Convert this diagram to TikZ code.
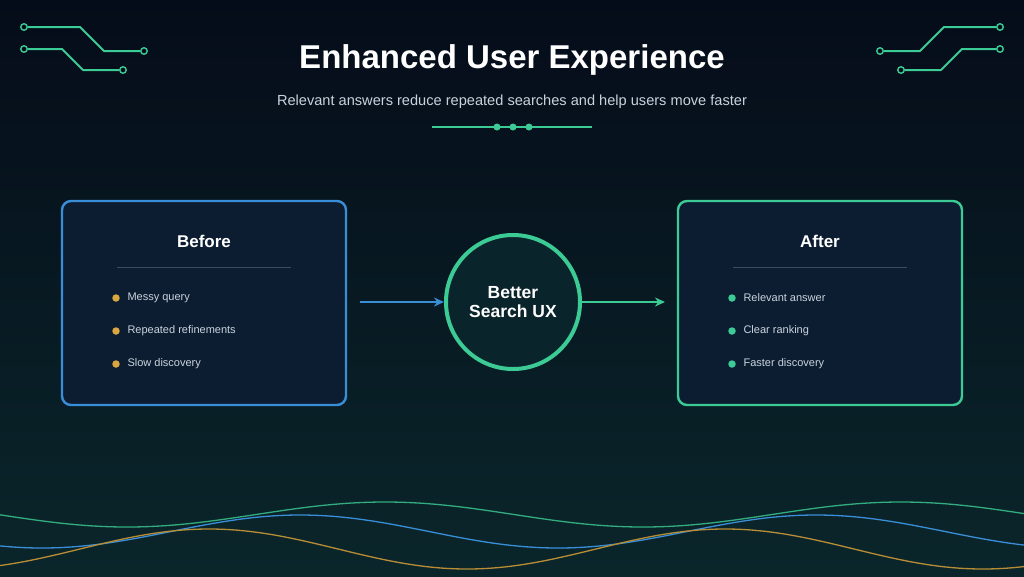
\documentclass[tikz,border=0pt]{standalone}
\usepackage{fontspec}
\setmainfont{Liberation Sans}
\usetikzlibrary{arrows.meta}
\begin{document}
\definecolor{bgtop}{HTML}{050C19}
\definecolor{bgbot}{HTML}{0A262B}
\definecolor{grn}{HTML}{3CCB95}
\definecolor{blu}{HTML}{3A8ED8}
\definecolor{gld}{HTML}{D9A640}
\definecolor{boxfill}{HTML}{0C1D32}
\definecolor{sub}{HTML}{C9D3DC}
\definecolor{sep}{HTML}{3A4C60}
\begin{tikzpicture}[x=1pt,y=-1pt,
  circ/.style={draw=grn,line width=2pt,line join=round},
  pin/.style={circle,draw=grn,line width=1.4pt,inner sep=0pt,minimum size=6.5pt},
  card/.style={rounded corners=9pt,line width=2.4pt,fill=boxfill},
  ttl/.style={text=white,font=\bfseries\fontsize{17}{20}\selectfont},
  item/.style={text=sub,font=\fontsize{11}{13}\selectfont,anchor=west},
  dot/.style={circle,inner sep=0pt,minimum size=7.5pt}]
\shade[top color=bgtop,bottom color=bgbot] (0,0) rectangle (1024,576);
\useasboundingbox (0,0) rectangle (1024,576);
% circuits
\node[pin] (a1) at (24,27) {}; \node[pin] (a2) at (144,51) {};
\draw[circ] (a1) -- (80,27) -- (104,51) -- (a2);
\node[pin] (b1) at (24,49) {}; \node[pin] (b2) at (123,70) {};
\draw[circ] (b1) -- (62,49) -- (83,70) -- (b2);
\node[pin] (c1) at (1000,27) {}; \node[pin] (c2) at (880,51) {};
\draw[circ] (c1) -- (944,27) -- (920,51) -- (c2);
\node[pin] (d1) at (1000,49) {}; \node[pin] (d2) at (901,70) {};
\draw[circ] (d1) -- (962,49) -- (941,70) -- (d2);
% title
\node[text=white,font=\bfseries\fontsize{33}{38}\selectfont] (title) at (512,60) {Enhanced User Experience};
\node[text=sub,font=\fontsize{14.6}{17}\selectfont] (subt) at (512,102) {Relevant answers reduce repeated searches and help users move faster};
\coordinate (l1) at (432,127); \coordinate (l2) at (592,127);
\draw[grn,line width=1.8pt] (l1) -- (l2);
\foreach \x in {497,513,529} \fill[grn] (\x,127) circle (3.5pt);
% cards
\node[card,draw=blu,minimum width=284pt,minimum height=204pt] (before) at (204,303) {};
\node[card,draw=grn,minimum width=284pt,minimum height=204pt] (after) at (820,303) {};
\node[ttl] at (204,241) {Before};
\node[ttl] at (820,241) {After};
\draw[sep,line width=1pt] (117,267) -- (291,267);
\draw[sep,line width=1pt] (733,267) -- (907,267);
\foreach \y/\t in {298/Messy query,331/Repeated refinements,364/Slow discovery}{
  \node[dot,fill=gld] at (116,\y) {}; \node[item] at (124,\y) {\t};}
\foreach \y/\t in {298/Relevant answer,331/Clear ranking,364/Faster discovery}{
  \node[dot,fill=grn] at (732,\y) {}; \node[item] at (740,\y) {\t};}
% centre
\node[circle,draw=grn,line width=4pt,fill=bgbot!80!boxfill,minimum size=134pt,align=center,text=white,font=\bfseries\fontsize{17.5}{19}\selectfont] (ux) at (513,302) {Better\\Search UX};
\coordinate (bs) at (360,302); \coordinate (ae) at (665,302);
\draw[blu,line width=2.8pt,-{Stealth[length=10pt,width=9pt]}] (bs) -- (ux.west);
\draw[grn,line width=2.8pt,-{Stealth[length=10pt,width=9pt]}] (ux.east) -- (ae);
% waves
\draw[grn!85!black,line width=1.3pt] plot[domain=0:1024,samples=150,smooth] (\x,{514.5-12.5*cos(0.6977*(\x-385))});
\draw[blu,line width=1.3pt] plot[domain=0:1024,samples=150,smooth] (\x,{531.5-16.5*cos(0.6977*(\x-300))});
\draw[gld!85!black,line width=1.3pt] plot[domain=0:1024,samples=150,smooth] (\x,{549-20*cos(0.6977*(\x-209))});
\end{tikzpicture}
\end{document}
